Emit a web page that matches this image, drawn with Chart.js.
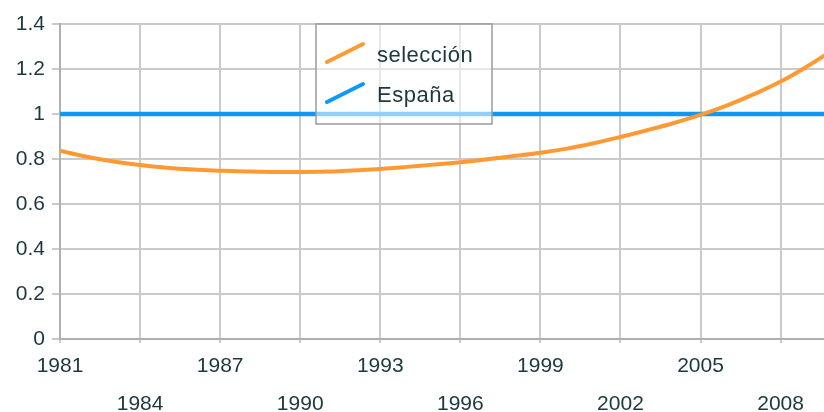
<!DOCTYPE html>
<html>
<head>
<meta charset="utf-8">
<script src="https://cdn.jsdelivr.net/npm/chart.js@4"></script>
<style>
  html, body { margin: 0; padding: 0; background: #fff; overflow: hidden; }
  #wrap { width: 824px; height: 412px; overflow: hidden; }
</style>
</head>
<body>
<div id="wrap"><canvas id="chart" width="834" height="412"></canvas></div>
<script>
// yearly index values
const years = [1981, 1982, 1983, 1984, 1985, 1986, 1987, 1988, 1989, 1990,
               1991, 1992, 1993, 1994, 1995, 1996, 1997, 1998, 1999, 2000,
               2001, 2002, 2003, 2004, 2005, 2006, 2007, 2008, 2009, 2010];
const seleccion = [0.837, 0.810, 0.789, 0.773, 0.761, 0.753, 0.748, 0.744, 0.742, 0.742,
                   0.744, 0.749, 0.756, 0.765, 0.775, 0.786, 0.799, 0.813, 0.828, 0.846,
                   0.870, 0.898, 0.928, 0.960, 0.996, 1.038, 1.088, 1.144, 1.212, 1.288];
const espana = [1, 1, 1, 1, 1, 1, 1, 1, 1, 1,
                1, 1, 1, 1, 1, 1, 1, 1, 1, 1,
                1, 1, 1, 1, 1, 1, 1, 1, 1, 1];
const seriesNames = ["selección", "España"];
const xTicks = [1981, 1984, 1987, 1990, 1993, 1996, 1999, 2002, 2005, 2008];
const yTickLabels = ["0", "0.2", "0.4", "0.6", "0.8", "1", "1.2", "1.4"];

const textColor = "#1c383e";
const gridColor = "#cacaca";
const axisColor = "#b0b0b0";
const fontFamily = '"Liberation Sans", Arial, sans-serif';

// legend as a framed box sitting over the plot
const boxLegend = {
  id: "boxLegend",
  afterDraw(chart, args, opts) {
    const ctx = chart.ctx;
    ctx.save();
    ctx.fillStyle = "rgba(255,255,255,0.55)";
    ctx.fillRect(opts.x, opts.y, opts.w, opts.h);
    ctx.strokeStyle = "#9a9a9a";
    ctx.lineWidth = 1.5;
    ctx.strokeRect(opts.x, opts.y, opts.w, opts.h);
    chart.data.datasets.forEach((ds, i) => {
      const y = opts.y + 38 + i * 40;
      ctx.strokeStyle = ds.borderColor;
      ctx.lineWidth = 4;
      ctx.lineCap = "round";
      ctx.beginPath();
      ctx.moveTo(opts.x + 11, y);
      ctx.lineTo(opts.x + 47, y - 18);
      ctx.stroke();
      ctx.fillStyle = textColor;
      ctx.font = "22px " + fontFamily;
      ctx.textBaseline = "alphabetic";
      if ("letterSpacing" in ctx) ctx.letterSpacing = "0.5px";
      ctx.fillText(ds.label, opts.x + 61, y);
    });
    ctx.restore();
  }
};

const toPoints = (vals) => vals.map((v, i) => ({ x: years[i], y: v }));

new Chart(document.getElementById("chart"), {
  type: "line",
  data: {
    datasets: [
      {
        label: seriesNames[0],
        data: toPoints(seleccion),
        borderColor: "#ff9933",
        borderWidth: 4,
        tension: 0.4,
        pointRadius: 0,
        fill: false,
      },
      {
        label: seriesNames[1],
        data: toPoints(espana),
        borderColor: "#0f98f5",
        borderWidth: 4.5,
        pointRadius: 0,
        fill: false,
      },
    ],
  },
  options: {
    responsive: false,
    animation: false,
    layout: { padding: { top: 24, left: 0, right: 0, bottom: 0 } },
    plugins: {
      legend: { display: false },
      tooltip: { enabled: false },
      boxLegend: { x: 316, y: 24, w: 176, h: 100 },
    },
    scales: {
      x: {
        type: "linear",
        min: 1981,
        max: 2010,
        afterBuildTicks: (s) => { s.ticks = xTicks.map((v) => ({ value: v })); },
        afterFit: (s) => { s.height = 73; },
        grid: { color: gridColor, lineWidth: 2, tickLength: 4 },
        border: { color: axisColor, width: 2 },
        ticks: {
          autoSkip: false,
          maxRotation: 0,
          padding: 4,
          color: textColor,
          font: { family: fontFamily, size: 21, lineHeight: 1.81 },
          callback: (v, i) => (i % 2 === 0 ? String(v) : ["", String(v)]),
        },
      },
      y: {
        min: 0,
        max: 1.4,
        afterFit: (s) => { s.width = 60; },
        grid: { color: gridColor, lineWidth: 2, tickLength: 8 },
        border: { color: axisColor, width: 2 },
        ticks: {
          stepSize: 0.2,
          padding: 7,
          color: textColor,
          font: { family: fontFamily, size: 21 },
          callback: (v, i) => yTickLabels[i],
        },
      },
    },
  },
  plugins: [boxLegend],
});
</script>
</body>
</html>
